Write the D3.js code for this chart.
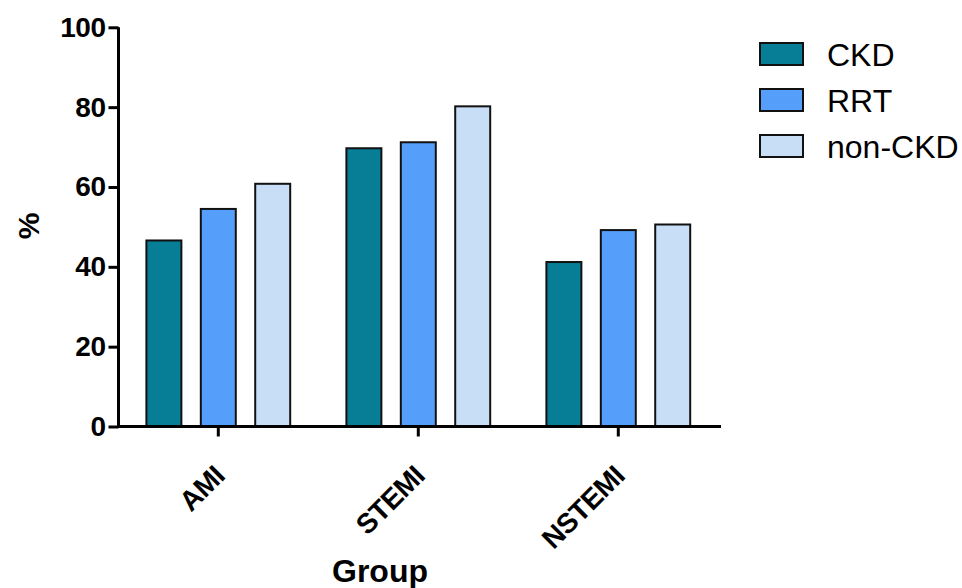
<!DOCTYPE html>
<html>
<head>
<meta charset="utf-8">
<script src="https://cdn.jsdelivr.net/npm/d3@7"></script>
<style>
  body { margin: 0; background: #fff; }
  text { font-family: "Liberation Sans", Arial, sans-serif; }
</style>
</head>
<body>
<div id="chart"></div>
<script>
// grouped bar chart: % by group and kidney status

var groups = ["AMI", "STEMI", "NSTEMI"];
var series = ["CKD", "RRT", "non-CKD"];
var ckd = [46.6, 69.7, 41.2];
var rrt = [54.5, 71.2, 49.2];
var nonCkd = [60.8, 80.2, 50.6];
var yTicks = [0, 20, 40, 60, 80, 100];
var colors = ["#087e96", "#559ffb", "#c8def7"];

var values = [ckd, rrt, nonCkd];

var width = 962, height = 588;

var svg = d3.select("#chart").append("svg")
    .attr("width", width)
    .attr("height", height);

var x0 = d3.scaleBand()
    .domain(groups)
    .range([118.3, 718.3])
    .padding(0);

var x1 = d3.scaleBand()
    .domain(series)
    .range([28.1, 171.9])
    .paddingInner(0.357)
    .paddingOuter(0);

var y = d3.scaleLinear()
    .domain([0, 100])
    .range([426.5, 27.3]);

// bars
var g = svg.append("g");
groups.forEach(function(grp, gi){
    g.selectAll(null)
        .data(series)
        .enter()
        .append("rect")
        .attr("x", s => x0(grp) + x1(s))
        .attr("y", (s, si) => y(values[si][gi]))
        .attr("width", x1.bandwidth())
        .attr("height", (s, si) => y(0) - y(values[si][gi]))
        .attr("fill", (s, si) => colors[si])
        .attr("stroke", "#111")
        .attr("stroke-width", 2);
});

// y axis
var yAxis = svg.append("g")
    .attr("transform", "translate(118.5,0)")
    .call(d3.axisLeft(y).tickValues(yTicks).tickSize(10).tickPadding(3))
    .call(a => a.select(".domain").attr("stroke-width", 3).attr("d", "M0," + y(100) + "V" + (y(0) + 1.5)));
yAxis.selectAll(".tick line").attr("stroke-width", 3);
yAxis.selectAll(".tick text")
    .attr("font-size", "28px")
    .attr("font-weight", "bold")
    .attr("letter-spacing", "-0.5px")
    .attr("fill", "#000");

// x axis
var xAxis = svg.append("g")
    .attr("transform", "translate(0," + y(0) + ")")
    .call(d3.axisBottom(x0).tickSize(10).tickSizeOuter(0))
    .call(a => a.select(".domain").attr("stroke-width", 3).attr("d", "M117," + 0 + "H721"));
xAxis.selectAll(".tick line").attr("stroke-width", 3);
xAxis.selectAll(".tick text")
    .attr("font-size", "28px")
    .attr("font-weight", "bold")
    .attr("letter-spacing", "-0.5px")
    .attr("fill", "#000")
    .attr("text-anchor", "end")
    .attr("x", 0)
    .attr("y", 0)
    .attr("dy", "0")
    .attr("transform", "translate(8,51) rotate(-45)");

// axis titles
svg.append("text")
    .attr("x", 380)
    .attr("y", 582)
    .attr("text-anchor", "middle")
    .attr("font-size", "32px")
    .attr("font-weight", "bold")
    .text("Group");

svg.append("text")
    .attr("transform", "translate(39,226) rotate(-90)")
    .attr("text-anchor", "middle")
    .attr("font-size", "30px")
    .attr("font-weight", "bold")
    .text("%");

// legend
var legend = svg.append("g")
    .attr("transform", "translate(760,43)");

legend.selectAll("rect")
    .data(series)
    .enter()
    .append("rect")
    .attr("x", 0)
    .attr("y", (d, i) => i * 46)
    .attr("width", 43)
    .attr("height", 22)
    .attr("fill", (d, i) => colors[i])
    .attr("stroke", "#111")
    .attr("stroke-width", 2);

legend.selectAll("text")
    .data(series)
    .enter()
    .append("text")
    .attr("x", 67)
    .attr("y", (d, i) => i * 46 + 11)
    .attr("dy", "0.36em")
    .attr("font-size", "32px")
    .text(d => d);
</script>
</body>
</html>
